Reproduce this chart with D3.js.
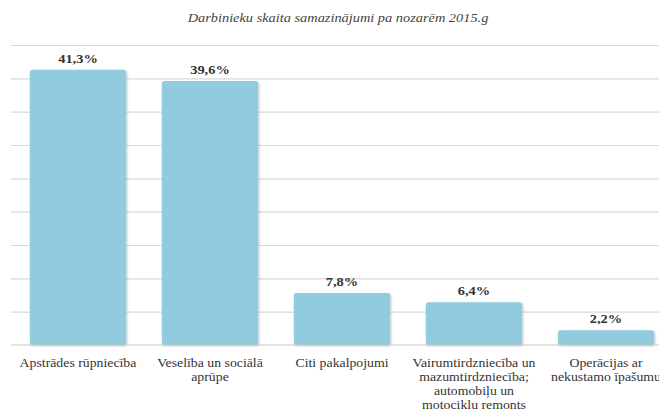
<!DOCTYPE html>
<html>
<head>
<meta charset="utf-8">
<script src="https://cdn.jsdelivr.net/npm/d3@7"></script>
<style>
  html, body { margin: 0; padding: 0; background: #fff; }
  svg { display: block; }
</style>
</head>
<body>
<svg id="chart" width="659" height="414"></svg>
<script>
const title = "Darbinieku skaita samazinājumi pa nozarēm 2015.g";
const categories = [
  "Apstrādes rūpniecība",
  "Veselība un sociālā\naprūpe",
  "Citi pakalpojumi",
  "Vairumtirdzniecība un\nmazumtirdzniecība;\nautomobiļu un\nmotociklu remonts",
  "Operācijas ar\nnekustamo īpašumu"
];
const values = [41.3, 39.6, 7.8, 6.4, 2.2];
const valueLabels = ["41,3%", "39,6%", "7,8%", "6,4%", "2,2%"];
const yTicks = [0, 5, 10, 15, 20, 25, 30, 35, 40, 45];

const FONT = "Liberation Serif";
const svg = d3.select("#chart");
const W = 659, H = 414;
const x = d3.scaleBand().domain(categories).range([12, 672]).paddingInner(0.27).paddingOuter(0.135);
const y = d3.scaleLinear().domain([0, 45]).range([345, 45]);
const SX = 1.2;

const defs = svg.append("defs");
const f = defs.append("filter").attr("id", "sh").attr("x", "-10%").attr("y", "-10%").attr("width", "125%").attr("height", "125%");
f.append("feDropShadow").attr("dx", 1).attr("dy", 1).attr("stdDeviation", 1).attr("flood-color", "#000").attr("flood-opacity", 0.25);

// title
svg.append("text")
  .attr("transform", `translate(338,22) scale(1.25,1)`)
  .attr("text-anchor", "middle")
  .style("font-family", FONT)
  .style("font-style", "italic")
  .style("font-size", "11.5px")
  .attr("fill", "#444")
  .text(title);

// gridlines
const grid = d3.axisLeft(y).tickValues(yTicks.slice(1)).tickSize(-(W - 11)).tickFormat("");
svg.append("g").attr("transform", "translate(11,0)").call(grid)
  .call(g => g.select(".domain").remove())
  .call(g => g.selectAll("line").attr("stroke", "#d9d9d9").attr("stroke-width", 1.2));

// bars
svg.append("g").selectAll("rect").data(values).join("rect")
  .attr("x", (d, i) => x(categories[i]))
  .attr("y", d => y(d))
  .attr("width", x.bandwidth())
  .attr("height", d => y(0) - y(d))
  .attr("rx", 3)
  .attr("fill", "#92cade")
  .attr("filter", "url(#sh)");

// baseline
svg.append("g").attr("transform", `translate(0,${y(0)})`)
  .call(d3.axisBottom(x).tickSize(0).tickFormat(""))
  .call(g => g.select(".domain").attr("d", `M11,0H${W}`).attr("stroke", "#c8c8c8").attr("stroke-width", 1.2));

// value labels
svg.append("g").selectAll("text").data(values).join("text")
  .attr("transform", (d, i) => `translate(${x(categories[i]) + x.bandwidth() / 2},${y(d) - 7}) scale(${SX},1)`)
  .attr("text-anchor", "middle")
  .style("font-family", FONT)
  .style("font-weight", "bold")
  .style("font-size", "12px")
  .attr("fill", "#333")
  .text((d, i) => valueLabels[i]);

// category labels
const cl = svg.append("g").selectAll("text").data(categories).join("text")
  .attr("transform", d => `translate(${x(d) + x.bandwidth() / 2},367) scale(${SX},1)`)
  .attr("text-anchor", "middle")
  .style("font-family", FONT)
  .style("font-size", "11.5px")
  .attr("fill", "#333");
cl.each(function(d) {
  const t = d3.select(this);
  d.split("\n").forEach((line, k) => {
    t.append("tspan").attr("x", 0).attr("dy", k === 0 ? 0 : 14).text(line);
  });
});
</script>
</body>
</html>
